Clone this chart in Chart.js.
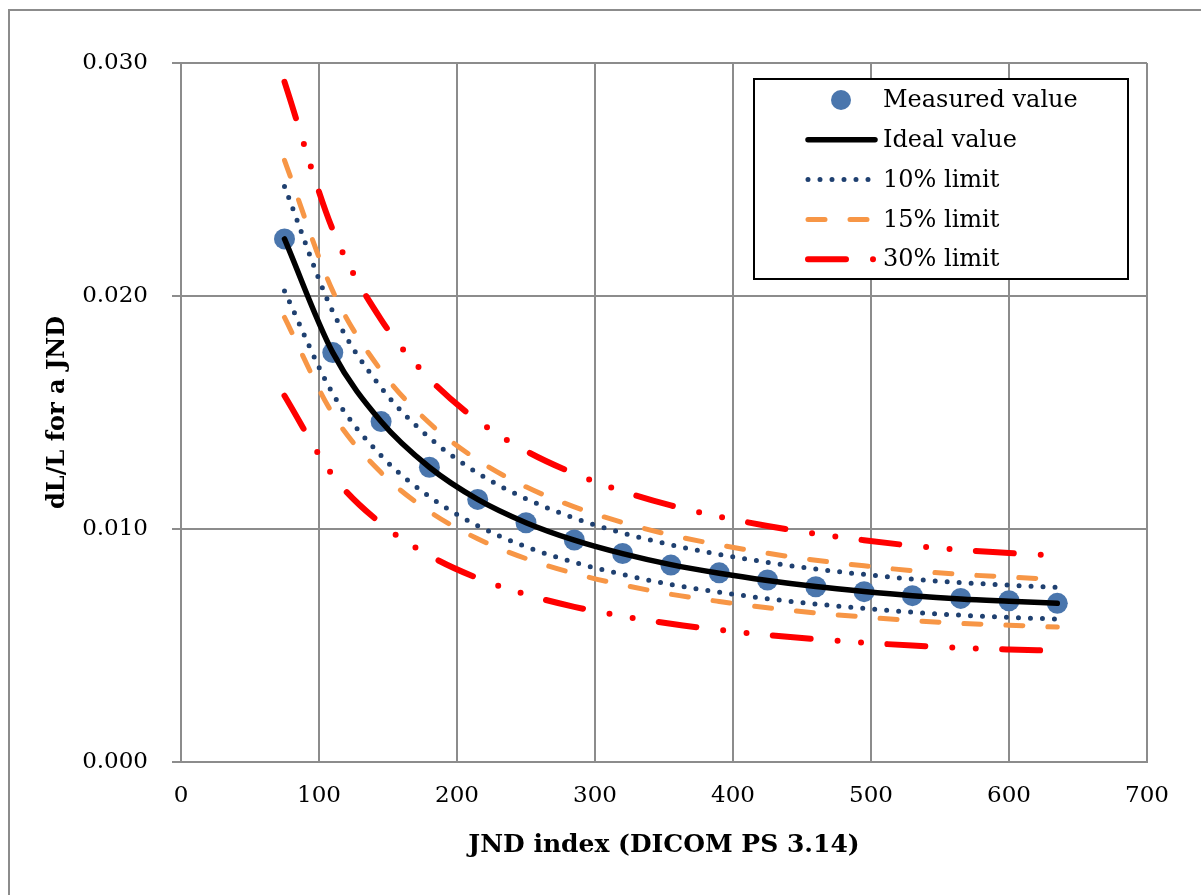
<!DOCTYPE html>
<html lang="en">
<head>
    <meta charset="UTF-8">
    <title>dL/L for a JND</title>
    <script src="https://cdn.jsdelivr.net/npm/chart.js"></script>
    <style>
        body {
            margin: 0;
            background: #FFFFFF;
            overflow: hidden;
        }
        canvas {
            display: block;
        }
    </style>
</head>
<body>
    <canvas id="jndChart" width="1201" height="895"></canvas>

    <script>
        // JND index of each measured step
        const jndIndex = [75, 110, 145, 180, 215, 250, 285, 320, 355, 390, 425, 460, 495, 530, 565, 600, 635];

        // dL/L values
        const measured = [0.02245, 0.01757, 0.01461, 0.01265, 0.01127, 0.01027, 0.00953, 0.00895, 0.00845, 0.00812, 0.00781, 0.00752, 0.00731, 0.00714, 0.00702, 0.00692, 0.00681];
        const ideal    = [0.02245, 0.01757, 0.01461, 0.01265, 0.01127, 0.01027, 0.00952, 0.00894, 0.00847, 0.00810, 0.00779, 0.00753, 0.00732, 0.00714, 0.00700, 0.00690, 0.00681];
        const upper10  = [0.02470, 0.01933, 0.01607, 0.01392, 0.01240, 0.01130, 0.01047, 0.00983, 0.00932, 0.00891, 0.00857, 0.00828, 0.00805, 0.00785, 0.00770, 0.00759, 0.00749];
        const lower10  = [0.02021, 0.01581, 0.01315, 0.01139, 0.01014, 0.00924, 0.00857, 0.00805, 0.00762, 0.00729, 0.00701, 0.00678, 0.00659, 0.00643, 0.00630, 0.00621, 0.00613];
        const upper15  = [0.02582, 0.02021, 0.01680, 0.01455, 0.01296, 0.01181, 0.01095, 0.01028, 0.00974, 0.00932, 0.00896, 0.00866, 0.00842, 0.00821, 0.00805, 0.00794, 0.00783];
        const lower15  = [0.01908, 0.01493, 0.01242, 0.01075, 0.00958, 0.00873, 0.00809, 0.00760, 0.00720, 0.00689, 0.00662, 0.00640, 0.00622, 0.00607, 0.00595, 0.00587, 0.00579];
        const upper30  = [0.02919, 0.02284, 0.01899, 0.01645, 0.01465, 0.01335, 0.01238, 0.01162, 0.01101, 0.01053, 0.01013, 0.00979, 0.00952, 0.00928, 0.00910, 0.00897, 0.00885];
        const lower30  = [0.01572, 0.01230, 0.01023, 0.00886, 0.00789, 0.00719, 0.00666, 0.00626, 0.00593, 0.00567, 0.00545, 0.00527, 0.00512, 0.00500, 0.00490, 0.00483, 0.00477];

        const FONT = "'DejaVu Serif', serif";
        const GRID = '#8c8c8c';

        const pointColor = '#4a76ad';
        const navy = '#1f4070';
        const orange = '#f79646';
        const red = '#ff0000';

        const dotDash = [0, 12];
        const orangeDash = [17, 25];
        const redDash = [38, 27, 0, 23.5, 0, 26.4];

        function toPoints(xs, ys) {
            return xs.map((x, i) => ({ x: x, y: ys[i] }));
        }

        function limitLine(values, color, width, dash) {
            return {
                data: toPoints(jndIndex, values),
                showLine: true,
                borderColor: color,
                borderWidth: width,
                borderDash: dash,
                borderCapStyle: 'round',
                pointRadius: 0,
                cubicInterpolationMode: 'monotone',
                order: 3
            };
        }

        // outer frame of the picture
        const frame = {
            id: 'frame',
            beforeDraw(chart) {
                const ctx = chart.ctx;
                ctx.save();
                ctx.fillStyle = '#FFFFFF';
                ctx.fillRect(0, 0, chart.width, chart.height);
                ctx.strokeStyle = GRID;
                ctx.lineWidth = 2;
                ctx.strokeRect(9, 10, 1400, 1000);
                ctx.restore();
            }
        };

        // legend box drawn by hand so the dash patterns match the lines
        const legendBox = {
            id: 'legendBox',
            afterDraw(chart) {
                const ctx = chart.ctx;
                const items = [
                    { text: 'Measured value', kind: 'point' },
                    { text: 'Ideal value', color: '#000000', width: 5.5, dash: [] },
                    { text: '10% limit', color: navy, width: 5, dash: dotDash },
                    { text: '15% limit', color: orange, width: 5, dash: orangeDash },
                    { text: '30% limit', color: red, width: 6, dash: redDash }
                ];
                ctx.save();
                ctx.fillStyle = '#FFFFFF';
                ctx.fillRect(754, 79, 374, 200);
                ctx.strokeStyle = '#000000';
                ctx.lineWidth = 2;
                ctx.strokeRect(754, 79, 374, 200);

                items.forEach((item, i) => {
                    const y = 100 + i * 39.8;
                    if (item.kind === 'point') {
                        ctx.beginPath();
                        ctx.fillStyle = pointColor;
                        ctx.arc(841, y, 10, 0, Math.PI * 2);
                        ctx.fill();
                    } else {
                        ctx.beginPath();
                        ctx.strokeStyle = item.color;
                        ctx.lineWidth = item.width;
                        ctx.lineCap = 'round';
                        ctx.setLineDash(item.dash);
                        ctx.moveTo(808, y);
                        ctx.lineTo(875, y);
                        ctx.stroke();
                        ctx.setLineDash([]);
                    }
                    ctx.fillStyle = '#000000';
                    ctx.font = '24px ' + FONT;
                    ctx.textBaseline = 'middle';
                    ctx.textAlign = 'left';
                    ctx.fillText(item.text, 883, y + 1);
                });
                ctx.restore();
            }
        };

        const ctx = document.getElementById('jndChart').getContext('2d');
        const chart = new Chart(ctx, {
            type: 'scatter',
            data: {
                datasets: [
                    {
                        label: 'Ideal value',
                        data: toPoints(jndIndex, ideal),
                        showLine: true,
                        borderColor: '#000000',
                        borderWidth: 5.5,
                        borderCapStyle: 'round',
                        pointRadius: 0,
                        cubicInterpolationMode: 'monotone',
                        order: 0
                    },
                    {
                        label: 'Measured value',
                        data: toPoints(jndIndex, measured),
                        showLine: false,
                        pointRadius: 10.5,
                        pointBackgroundColor: pointColor,
                        pointBorderWidth: 0,
                        order: 1
                    },
                    limitLine(upper10, navy, 5, dotDash),
                    limitLine(lower10, navy, 5, dotDash),
                    limitLine(upper15, orange, 5, orangeDash),
                    limitLine(lower15, orange, 5, orangeDash),
                    limitLine(upper30, red, 6, redDash),
                    limitLine(lower30, red, 6, redDash)
                ]
            },
            options: {
                responsive: false,
                animation: false,
                layout: {
                    padding: { left: 0, top: 63, right: 54, bottom: 0 }
                },
                scales: {
                    x: {
                        type: 'linear',
                        min: 0,
                        max: 700,
                        ticks: {
                            stepSize: 100,
                            padding: 20,
                            color: '#000000',
                            font: { family: FONT, size: 23 },
                            maxRotation: 0
                        },
                        grid: {
                            color: GRID,
                            lineWidth: 2,
                            drawTicks: false
                        },
                        border: { color: GRID, width: 2 },
                        title: {
                            display: true,
                            text: 'JND index (DICOM PS 3.14)',
                            color: '#000000',
                            font: { family: FONT, size: 25, weight: 'bold' },
                            padding: { top: 0, bottom: 35 }
                        },
                        afterFit(scale) {
                            scale.height = 133;
                        }
                    },
                    y: {
                        type: 'linear',
                        min: 0,
                        max: 0.03,
                        ticks: {
                            stepSize: 0.01,
                            padding: 24,
                            color: '#000000',
                            font: { family: FONT, size: 23 },
                            callback: v => v.toFixed(3)
                        },
                        grid: {
                            color: GRID,
                            lineWidth: 2,
                            tickLength: 9
                        },
                        border: { color: GRID, width: 2 },
                        title: {
                            display: true,
                            text: 'dL/L for a JND',
                            color: '#000000',
                            font: { family: FONT, size: 24, weight: 'bold' },
                            padding: { top: 43, bottom: 0 }
                        },
                        afterFit(scale) {
                            scale.width = 181;
                        }
                    }
                },
                plugins: {
                    legend: { display: false },
                    tooltip: { enabled: false }
                }
            },
            plugins: [frame, legendBox]
        });
    </script>
</body>
</html>
